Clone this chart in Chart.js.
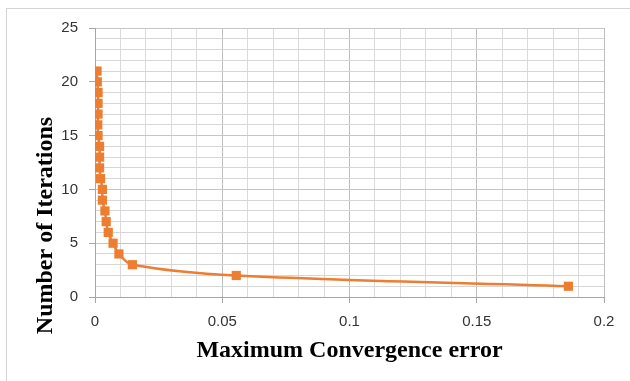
<!DOCTYPE html>
<html>
<head>
<meta charset="utf-8">
<script src="https://cdn.jsdelivr.net/npm/chart.js@4.4.1/dist/chart.umd.min.js"></script>
<style>
  html, body { margin:0; padding:0; background:#fff; }
  #wrap { position:relative; width:630px; height:381px; }
  #frame { position:absolute; left:6px; top:8px; right:0; bottom:0; border-top:1px solid #d4d4d4; border-left:1px solid #d4d4d4; }
  #chart { position:absolute; left:0; top:0; }
</style>
</head>
<body>
<div id="wrap">
  <div id="frame"></div>
  <canvas id="chart" width="630" height="381"></canvas>
</div>
<script>
// values
const iterations = [1, 2, 3, 4, 5, 6, 7, 8, 9, 10, 11, 12, 13, 14, 15, 16, 17, 18, 19, 20, 21];
const maxError = [0.186, 0.0555, 0.0147, 0.0094, 0.0071, 0.0052, 0.0044, 0.0039, 0.0029, 0.0029, 0.0022,
                  0.0018, 0.0018, 0.0018, 0.0012, 0.0011, 0.0012, 0.0012, 0.0012, 0.0009, 0.0008];

const xMajor = [0, 0.05, 0.1, 0.15, 0.2];
const xTickLabels = ['0', '0.05', '0.1', '0.15', '0.2'];
const yMajor = [0, 5, 10, 15, 20, 25];
const yTickLabels = ['0', '5', '10', '15', '20', '25'];

const xTitle = 'Maximum Convergence error';
const yTitle = 'Number of Iterations';

const orange = '#ED7D31';
const tickFont = { family: '"Liberation Sans", Arial, sans-serif', size: 15 };
const titleFont = '"Liberation Serif", "Times New Roman", serif';

const majorIndex = (list, v) => list.findIndex(m => Math.abs(m - v) < 1e-9);

// y axis title sits lower than the axis centre in the original, so draw it here
const yTitlePlugin = {
  id: 'yTitle',
  afterDraw(chart){
    const ctx = chart.ctx;
    ctx.save();
    ctx.translate(52, 225.5);
    ctx.rotate(-Math.PI/2);
    ctx.font = 'bold 24px ' + titleFont;
    ctx.fillStyle = '#000';
    ctx.textAlign = 'center';
    ctx.textBaseline = 'alphabetic';
    ctx.fillText(yTitle, 0, 0);
    ctx.restore();
  }
};

new Chart(document.getElementById('chart'), {
  type: 'scatter',
  data: {
    datasets: [{
      data: iterations.map((it, i) => ({ x: maxError[i], y: it })),
      showLine: true,
      borderColor: orange,
      backgroundColor: orange,
      borderWidth: 2.5,
      tension: 0.35,
      pointStyle: 'rect',
      pointRadius: 6.5,
      pointBorderWidth: 0,
      pointBackgroundColor: orange,
      pointBorderColor: orange
    }]
  },
  options: {
    responsive: false,
    animation: false,
    layout: { padding: { left: 0, top: 28, right: 26, bottom: 0 } },
    plugins: { legend: { display: false }, tooltip: { enabled: false } },
    scales: {
      x: {
        type: 'linear', min: 0, max: 0.2,
        afterFit: s => { s.height = 84; },
        border: { color: '#a6a6a6', width: 1 },
        grid: {
          color: c => majorIndex(xMajor, c.tick.value) >= 0 ? '#bdbdbd' : '#dadada',
          tickColor: c => majorIndex(xMajor, c.tick.value) >= 0 ? '#a6a6a6' : 'rgba(0,0,0,0)',
          tickLength: 6
        },
        ticks: {
          stepSize: 0.01, autoSkip: false, maxRotation: 0, padding: 10,
          color: '#333', font: tickFont,
          callback: v => { const i = majorIndex(xMajor, v); return i >= 0 ? xTickLabels[i] : ''; }
        },
        title: {
          display: true, text: xTitle, color: '#000',
          font: { family: titleFont, size: 24, weight: 'bold' },
          padding: { top: 0, bottom: 16 }
        }
      },
      y: {
        type: 'linear', min: 0, max: 25,
        afterFit: s => { s.width = 95; },
        border: { color: '#a6a6a6', width: 1 },
        grid: {
          color: c => majorIndex(yMajor, c.tick.value) >= 0 ? '#c6c6c6' : '#d6d6d6',
          tickColor: c => majorIndex(yMajor, c.tick.value) >= 0 ? '#a6a6a6' : 'rgba(0,0,0,0)',
          tickLength: 6
        },
        ticks: {
          stepSize: 1, autoSkip: false, padding: 11,
          color: '#333', font: tickFont,
          callback: v => { const i = majorIndex(yMajor, v); return i >= 0 ? yTickLabels[i] : ''; }
        }
      }
    }
  },
  plugins: [yTitlePlugin]
});
</script>
</body>
</html>
